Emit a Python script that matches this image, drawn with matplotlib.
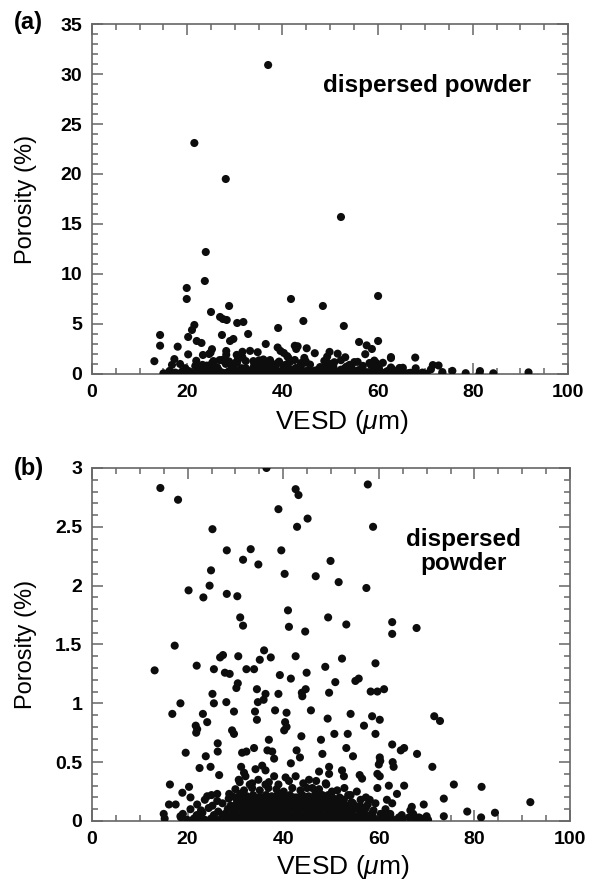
import numpy as np
import matplotlib
matplotlib.use("Agg")
import matplotlib.pyplot as plt
from matplotlib.ticker import MultipleLocator, FormatStrFormatter

plt.rcParams['font.family'] = ['Liberation Sans', 'DejaVu Sans']
plt.rcParams['mathtext.fontset'] = 'custom'
plt.rcParams['mathtext.rm'] = 'Liberation Sans'
plt.rcParams['mathtext.it'] = 'Liberation Sans:italic'

# particles with porosity above 3 %
high_points = [(37.0, 30.9), (21.5, 23.1), (28.1, 19.5), (52.3, 15.7), (23.9, 12.2),
               (23.7, 9.3), (19.9, 8.6), (19.9, 7.5), (28.8, 6.8), (25.0, 6.2),
               (26.9, 5.7), (27.5, 5.5), (28.3, 5.4), (30.5, 5.1), (31.8, 5.2),
               (21.5, 4.9), (21.0, 4.4), (20.2, 3.7), (14.3, 3.9), (27.3, 3.9),
               (29.0, 3.3), (29.7, 3.5), (32.8, 4.0), (22.0, 3.3), (23.0, 3.1),
               (39.1, 4.6), (41.8, 7.5), (44.4, 5.3), (48.5, 6.8), (60.1, 7.8),
               (52.9, 4.8), (56.1, 3.2), (60.1, 3.3)]

# scattered particles below 3 %
mid_points = [(14.3, 2.83), (18.0, 2.73), (36.5, 3.0), (42.6, 2.82), (43.2, 2.77),
              (39.0, 2.65), (45.1, 2.57), (42.9, 2.50), (25.2, 2.48), (28.2, 2.30),
              (33.2, 2.31), (39.6, 2.30), (31.6, 2.22), (34.8, 2.18), (49.9, 2.21),
              (24.9, 2.13), (40.3, 2.10), (46.8, 2.08), (24.6, 2.00), (20.2, 1.96),
              (23.3, 1.90), (28.2, 1.93), (30.4, 1.91), (41.0, 1.79), (31.0, 1.73),
              (31.6, 1.66), (41.2, 1.65), (44.6, 1.61), (49.4, 1.73), (17.3, 1.49),
              (57.7, 2.86), (58.8, 2.50), (51.6, 2.03), (57.4, 1.98), (53.2, 1.67),
              (62.8, 1.69), (62.8, 1.59), (67.9, 1.64)]

low_points = [(13.1, 1.28), (21.9, 1.32), (26.8, 1.39), (27.4, 1.41), (30.6, 1.40),
              (36.0, 1.45), (35.1, 1.37), (37.4, 1.39), (42.6, 1.40), (25.5, 1.29),
              (27.8, 1.26), (28.8, 1.25), (32.3, 1.29), (33.9, 1.29), (39.3, 1.24),
              (41.6, 1.21), (44.9, 1.26), (48.8, 1.31), (30.5, 1.17), (30.2, 1.13),
              (34.5, 1.12), (25.2, 1.08), (25.5, 1.00), (28.1, 1.01), (36.3, 1.08),
              (35.9, 1.03), (34.7, 1.01), (39.0, 1.08), (43.9, 1.09), (44.7, 1.12),
              (44.0, 1.06), (49.6, 1.09), (18.5, 1.00), (16.8, 0.91), (23.2, 0.91),
              (24.1, 0.84), (29.7, 0.93), (34.1, 0.93), (34.5, 0.86), (38.3, 0.94),
              (40.7, 0.92), (40.4, 0.84), (40.2, 0.77), (40.7, 0.80), (45.8, 0.94),
              (49.3, 0.87), (21.7, 0.81), (22.0, 0.78), (21.8, 0.75), (29.3, 0.77),
              (29.7, 0.74), (37.0, 0.69), (43.8, 0.72), (47.9, 0.69), (26.3, 0.66),
              (26.3, 0.59), (19.6, 0.58), (31.4, 0.58), (32.3, 0.59), (33.9, 0.62),
              (36.7, 0.60), (37.7, 0.59), (38.1, 0.53), (42.8, 0.60), (43.5, 0.54),
              (48.2, 0.57), (23.8, 0.55), (22.5, 0.45), (24.8, 0.46), (26.6, 0.39),
              (31.2, 0.46), (31.8, 0.41), (34.2, 0.44), (35.6, 0.47), (36.3, 0.43),
              (41.6, 0.49), (49.6, 0.46), (16.3, 0.31), (20.3, 0.29), (18.9, 0.24),
              (20.6, 0.20), (16.1, 0.14), (17.5, 0.14), (15.0, 0.06), (18.5, 0.04),
              (24.1, 0.21), (26.2, 0.23), (28.7, 0.23), (30.7, 0.35), (32.1, 0.38),
              (33.5, 0.32), (36.3, 0.31), (38.1, 0.38), (40.5, 0.37), (42.6, 0.38),
              (45.4, 0.35), (47.5, 0.42), (48.9, 0.32), (46.1, 0.28), (48.2, 0.22),
              (49.6, 0.40)]

right_points = [(52.3, 1.38), (59.3, 1.34), (50.9, 1.18), (55.1, 1.19), (55.8, 1.21),
                (58.3, 1.10), (59.7, 1.10), (61.1, 1.12), (54.1, 0.91), (58.6, 0.89),
                (60.2, 0.86), (56.9, 0.81), (50.7, 0.74), (53.5, 0.74), (59.3, 0.74),
                (71.6, 0.89), (72.8, 0.85), (62.8, 0.65), (64.6, 0.60), (65.3, 0.62),
                (68.0, 0.57), (53.2, 0.62), (54.6, 0.55), (60.2, 0.54), (60.3, 0.51),
                (60.0, 0.48), (62.9, 0.50), (63.1, 0.46), (71.2, 0.46), (52.3, 0.43),
                (59.7, 0.40), (60.2, 0.38), (56.0, 0.39), (56.5, 0.36), (52.7, 0.38),
                (62.1, 0.30), (65.3, 0.30), (59.7, 0.28), (63.8, 0.23), (61.7, 0.18),
                (62.8, 0.15), (59.3, 0.15), (73.6, 0.19), (75.7, 0.31), (81.5, 0.29),
                (91.7, 0.16), (69.4, 0.14), (66.9, 0.12), (66.6, 0.09), (73.6, 0.04),
                (78.5, 0.08), (81.4, 0.03), (84.3, 0.07), (70.0, 0.04), (68.4, 0.03),
                (64.2, 0.03), (62.5, 0.03), (60.4, 0.06), (55.4, 0.25), (54.1, 0.22),
                (51.3, 0.26), (57.3, 0.20), (58.1, 0.18)]

# the dense band of nearly non-porous particles, row by row
band_a = [(15.2, 0.02), (18.6, 0.03), (19.9, 0.01), (21.3, 0.02), (22.4, 0.03), (23.6, 0.01),
          (24.9, 0.02), (26.0, 0.01), (27.2, 0.03), (28.3, 0.02), (29.4, 0.01), (30.5, 0.02),
          (31.6, 0.03), (32.7, 0.01), (33.8, 0.02), (34.9, 0.02), (36.0, 0.01), (37.1, 0.03),
          (38.2, 0.02), (39.3, 0.01), (40.4, 0.02), (41.5, 0.03), (42.6, 0.01), (43.7, 0.02),
          (44.8, 0.02), (45.9, 0.01), (47.0, 0.03), (48.1, 0.02), (49.2, 0.01), (50.3, 0.02),
          (51.4, 0.03), (52.5, 0.02), (53.6, 0.01), (54.7, 0.02), (55.8, 0.03), (56.9, 0.01),
          (58.0, 0.02), (59.1, 0.02), (60.3, 0.01), (61.5, 0.03), (62.6, 0.02), (63.8, 0.01),
          (65.0, 0.02), (66.3, 0.03), (67.6, 0.01), (68.9, 0.02), (70.3, 0.01)]
band_a2 = [(27.7, 0.04), (28.8, 0.03), (29.9, 0.04), (31.0, 0.04), (32.1, 0.03), (33.2, 0.04),
           (34.3, 0.04), (35.4, 0.03), (36.5, 0.04), (37.6, 0.04), (38.7, 0.03), (39.8, 0.04),
           (40.9, 0.04), (42.0, 0.03), (43.1, 0.04), (44.2, 0.04), (45.3, 0.03), (46.4, 0.04),
           (47.5, 0.04), (48.6, 0.03), (49.7, 0.04), (50.8, 0.04), (51.9, 0.03), (53.0, 0.04),
           (54.1, 0.04), (55.2, 0.03), (56.3, 0.04), (57.4, 0.04), (58.5, 0.03)]
band_b = [(19.0, 0.06), (21.9, 0.05), (23.1, 0.07), (25.5, 0.05), (27.8, 0.06), (28.9, 0.04),
          (30.0, 0.06), (31.1, 0.05), (32.2, 0.07), (33.3, 0.05), (34.4, 0.06), (35.5, 0.04),
          (36.6, 0.06), (37.7, 0.05), (38.8, 0.07), (39.9, 0.05), (41.0, 0.06), (42.1, 0.04),
          (43.2, 0.06), (44.3, 0.05), (45.4, 0.07), (46.5, 0.05), (47.6, 0.06), (48.7, 0.04),
          (49.8, 0.06), (50.9, 0.05), (52.0, 0.07), (53.1, 0.05), (54.2, 0.06), (55.3, 0.04),
          (56.4, 0.06), (57.5, 0.05), (58.7, 0.07), (60.9, 0.05), (62.4, 0.06), (64.8, 0.05),
          (67.2, 0.06)]
band_c = [(20.6, 0.10), (22.8, 0.09), (24.4, 0.11), (26.4, 0.08), (28.4, 0.10), (29.5, 0.09),
          (30.6, 0.11), (31.7, 0.09), (32.8, 0.10), (33.9, 0.08), (35.0, 0.10), (36.1, 0.09),
          (37.2, 0.11), (38.3, 0.09), (39.4, 0.10), (40.5, 0.08), (41.6, 0.10), (42.7, 0.09),
          (43.8, 0.11), (44.9, 0.09), (46.0, 0.10), (47.1, 0.08), (48.2, 0.10), (49.3, 0.09),
          (50.4, 0.11), (51.5, 0.09), (52.6, 0.10), (53.7, 0.08), (54.8, 0.10), (56.0, 0.09),
          (57.3, 0.11), (58.9, 0.09), (61.4, 0.10)]
band_c2 = [(29.0, 0.12), (30.1, 0.11), (31.2, 0.12), (32.3, 0.12), (33.4, 0.11), (34.5, 0.12),
           (35.6, 0.12), (36.7, 0.11), (37.8, 0.12), (38.9, 0.12), (40.0, 0.11), (41.1, 0.12),
           (42.2, 0.12), (43.3, 0.11), (44.4, 0.12), (45.5, 0.12), (46.6, 0.11), (47.7, 0.12),
           (48.8, 0.12), (49.9, 0.11), (51.0, 0.12), (52.1, 0.12), (53.2, 0.11), (54.3, 0.12),
           (55.5, 0.12), (56.8, 0.11)]
band_d = [(22.0, 0.14), (25.2, 0.13), (27.3, 0.15), (29.0, 0.13), (30.1, 0.14), (31.2, 0.12),
          (32.3, 0.14), (33.4, 0.13), (34.5, 0.15), (35.6, 0.13), (36.7, 0.14), (37.8, 0.12),
          (38.9, 0.14), (40.0, 0.13), (41.1, 0.15), (42.2, 0.13), (43.3, 0.14), (44.4, 0.12),
          (45.5, 0.14), (46.6, 0.13), (47.7, 0.15), (48.8, 0.13), (49.9, 0.14), (51.0, 0.12),
          (52.1, 0.14), (53.3, 0.13), (54.6, 0.15), (56.1, 0.13), (57.7, 0.14)]
band_e = [(23.6, 0.18), (26.2, 0.17), (28.6, 0.19), (30.4, 0.17), (31.6, 0.18), (32.8, 0.16),
          (34.0, 0.18), (35.2, 0.17), (36.3, 0.19), (37.4, 0.17), (38.5, 0.18), (39.6, 0.16),
          (40.7, 0.18), (41.8, 0.17), (42.9, 0.19), (44.0, 0.17), (45.1, 0.18), (46.2, 0.16),
          (47.3, 0.18), (48.5, 0.17), (49.7, 0.19), (51.2, 0.17), (52.7, 0.18), (54.3, 0.16),
          (56.2, 0.18)]
band_e2 = [(30.0, 0.20), (31.1, 0.19), (32.2, 0.20), (33.3, 0.20), (34.4, 0.19), (35.5, 0.20),
           (36.6, 0.20), (37.7, 0.19), (38.8, 0.20), (39.9, 0.20), (41.0, 0.19), (42.1, 0.20),
           (43.2, 0.20), (44.3, 0.19), (45.4, 0.20), (46.5, 0.20), (47.6, 0.19), (48.8, 0.20),
           (50.3, 0.20), (52.0, 0.19)]
band_f = [(25.0, 0.22), (29.3, 0.21), (31.0, 0.23), (32.4, 0.21), (33.7, 0.22), (35.0, 0.20),
          (36.4, 0.22), (37.6, 0.21), (38.9, 0.23), (40.2, 0.21), (41.4, 0.22), (42.7, 0.20),
          (44.0, 0.22), (45.3, 0.21), (46.7, 0.23), (48.0, 0.21), (49.4, 0.22), (51.8, 0.20),
          (53.6, 0.22)]
band_g = [(30.0, 0.27), (31.8, 0.26), (33.5, 0.28), (35.1, 0.26), (36.9, 0.28), (38.6, 0.27),
          (40.1, 0.25), (41.9, 0.28), (43.6, 0.26), (45.0, 0.28), (47.5, 0.27), (50.2, 0.25),
          (52.8, 0.28)]
band_h = [(30.9, 0.33), (33.0, 0.31), (34.8, 0.35), (37.0, 0.33), (39.0, 0.31), (41.2, 0.34),
          (44.2, 0.32), (46.9, 0.34), (49.0, 0.31)]

all_points = (high_points + mid_points + low_points + right_points + band_a + band_a2
              + band_b + band_c + band_c2 + band_d + band_e + band_e2 + band_f
              + band_g + band_h)
vesd = np.array([p[0] for p in all_points])
porosity = np.array([p[1] for p in all_points])

spine_col = '#666666'
fig = plt.figure(figsize=(5.99, 8.86), dpi=100)
ax1 = fig.add_axes([0.1536, 0.5779, 0.7947, 0.395])
ax2 = fig.add_axes([0.1536, 0.0734, 0.798, 0.3984])

for ax, ymax, ymaj, ymin in [(ax1, 35, 5, 1), (ax2, 3, 0.5, 0.1)]:
    ax.scatter(vesd, porosity, s=34, color='#0d0d0d', edgecolors='none', zorder=3)
    ax.set_xlim(0, 100)
    ax.set_ylim(0, ymax)
    ax.xaxis.set_major_locator(MultipleLocator(20))
    ax.xaxis.set_minor_locator(MultipleLocator(5))
    ax.yaxis.set_major_locator(MultipleLocator(ymaj))
    ax.yaxis.set_minor_locator(MultipleLocator(ymin))
    ax.yaxis.set_major_formatter(FormatStrFormatter('%g'))
    ax.tick_params(which='both', direction='in', top=True, right=True,
                   color=spine_col, width=1.1)
    ax.tick_params(which='major', length=8, pad=7, labelsize=14)
    ax.tick_params(which='minor', length=4.5)
    for lab in ax.get_xticklabels() + ax.get_yticklabels():
        lab.set_fontweight('bold')
    for sp in ax.spines.values():
        sp.set_color(spine_col)
        sp.set_linewidth(1.2)
    ax.set_xlabel(r'VESD ($\mu$m)', fontsize=19)
    ax.set_ylabel('Porosity (%)', fontsize=17)
    ax.yaxis.set_label_coords(-0.1155, 0.5)

ax1.xaxis.set_label_coords(0.525, -0.098)
ax2.xaxis.set_label_coords(0.525, -0.092)

ax1.text(70.4, 28.9, 'dispersed powder', fontsize=17.5, fontweight='bold',
         ha='center', va='center')
ax2.text(77.8, 2.29, 'dispersed\npowder', fontsize=17.5, fontweight='bold',
         ha='center', va='center', linespacing=1.1)

fig.text(14 / 599, 1 - 23 / 886, '(a)', fontsize=17, fontweight='bold',
         ha='left', va='center')
fig.text(14 / 599, 1 - 468 / 886, '(b)', fontsize=17, fontweight='bold',
         ha='left', va='center')

fig.savefig('out.png', dpi=100)
